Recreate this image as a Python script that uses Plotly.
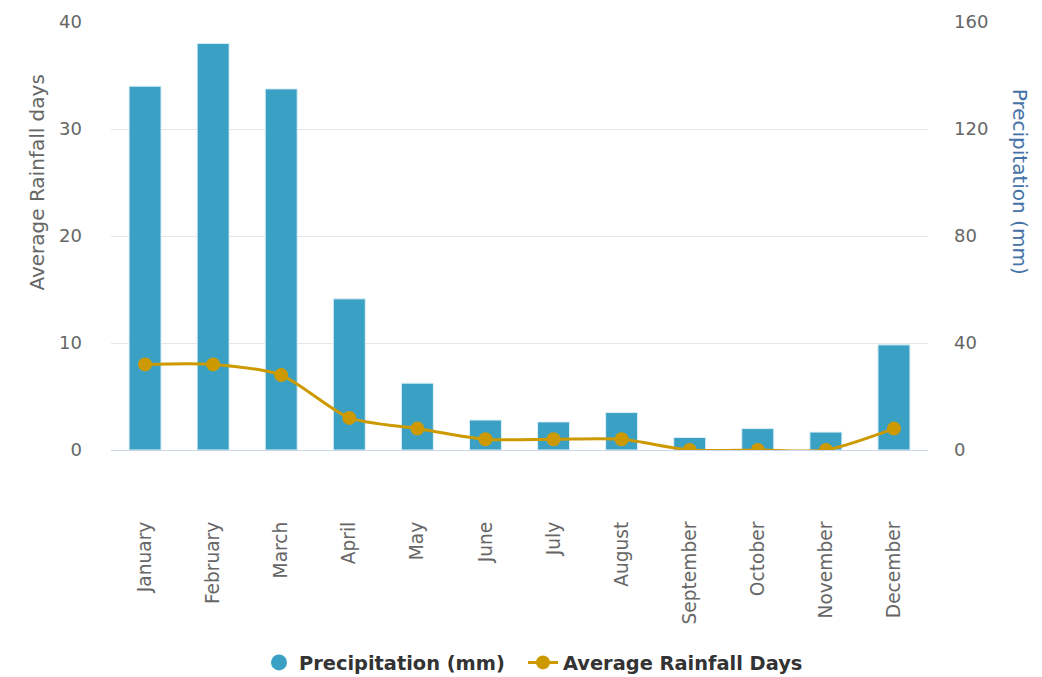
import plotly.graph_objects as go

# Monthly climate figures
months = ["January", "February", "March", "April", "May", "June",
          "July", "August", "September", "October", "November", "December"]
precipitation_mm = [136, 152, 135, 56.5, 25, 11.2, 10.5, 14, 4.7, 8, 6.7, 39.3]
rainfall_days = [8, 8, 7, 3, 2, 1, 1, 1, 0, 0, 0, 2]

BAR_COLOR = "#3aa1c4"
LINE_COLOR = "#cc9a00"
FONT = "DejaVu Sans"
LEGEND_FONT = dict(size=19.4, color="#333333", family=FONT, weight="bold")

fig = go.Figure()

# Precipitation bars on the right-hand axis (base layer)
fig.add_trace(go.Bar(
    x=months, y=precipitation_mm, name="Precipitation (mm)",
    yaxis="y", marker=dict(color=BAR_COLOR, line=dict(color="#dff0f6", width=1)),
    width=0.47, showlegend=False,
))

# Legend entry for the bars, shown as a round swatch
fig.add_trace(go.Scatter(
    x=[None], y=[None], mode="markers", name="Precipitation (mm)",
    marker=dict(color=BAR_COLOR, size=20, symbol="circle"), yaxis="y",
    legend="legend",
))

# Rainfall days as a smoothed line with markers on the left axis (drawn on top)
fig.add_trace(go.Scatter(
    x=months, y=rainfall_days, name="Average Rainfall Days",
    mode="lines+markers", yaxis="y2", legend="legend2",
    line=dict(color=LINE_COLOR, width=3, shape="spline", smoothing=0.7),
    marker=dict(color=LINE_COLOR, size=14),
))

legend_common = dict(
    orientation="h", xref="container", yref="container",
    xanchor="left", y=0.021, yanchor="middle",
    font=LEGEND_FONT, itemsizing="trace", bgcolor="rgba(0,0,0,0)",
)

fig.update_layout(
    width=1042, height=677,
    margin=dict(l=111, r=114, t=22, b=227, autoexpand=False),
    plot_bgcolor="white", paper_bgcolor="white",
    font=dict(family=FONT, color="#666666", size=17),
    xaxis=dict(
        range=[-0.5, 11.5],
        tickangle=-90, tickfont=dict(size=18.6, color="#666666"),
        showgrid=False, showline=False, ticks="",
        ticklabelstandoff=67,
    ),
    yaxis=dict(
        range=[0, 160], tickvals=[0, 40, 80, 120, 160], side="right",
        showgrid=True, gridcolor="#e6e6e6", gridwidth=1,
        zeroline=True, zerolinecolor="#ccd6eb", zerolinewidth=1,
        tickfont=dict(size=18, color="#666666"), ticklabelstandoff=25,
    ),
    yaxis2=dict(
        range=[0, 40], tickvals=[0, 10, 20, 30, 40],
        overlaying="y", side="left", showgrid=False, zeroline=False,
        tickfont=dict(size=18, color="#666666"), ticklabelstandoff=28,
    ),
    legend=dict(x=(267 - 8) / 1042, **legend_common),
    legend2=dict(x=(527 - 4) / 1042, **legend_common),
    annotations=[
        dict(text="Average Rainfall days", xref="paper", yref="paper",
             x=-0.091, y=0.624, textangle=-90, showarrow=False,
             font=dict(size=20, color="#666666"), xanchor="center", yanchor="middle"),
        dict(text="Precipitation (mm)", xref="paper", yref="paper",
             x=1.113, y=0.626, textangle=90, showarrow=False,
             font=dict(size=20, color="#4572a7"), xanchor="center", yanchor="middle"),
    ],
)

fig.write_html("out.html")
